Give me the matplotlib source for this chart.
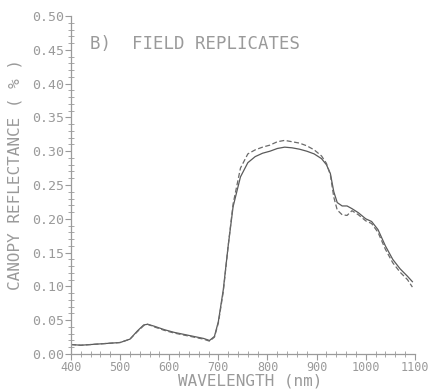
import matplotlib
matplotlib.use('Agg')
import matplotlib.pyplot as plt
from matplotlib.ticker import MultipleLocator, FormatStrFormatter

# wavelength (nm) and canopy reflectance of the two field replicates
wavelength = [400, 420, 440, 460, 480, 500, 520, 535, 548, 556, 570, 590, 610, 630, 650,
              670, 682, 692, 700, 710, 720, 730, 745, 760, 775, 790, 805, 820, 835, 850,
              865, 880, 895, 910, 920, 928, 935, 942, 952, 962, 972, 985, 1000, 1012, 1025,
              1040, 1055, 1070, 1085, 1095]
rep1 = [.014, .013, .014, .015, .016, .017, .022, .034, .043, .044, .041, .036, .032, .029, .026,
        .023, .020, .026, .048, .095, .160, .218, .262, .283, .292, .297, .300, .304, .306, .305,
        .303, .300, .296, .289, .280, .267, .240, .224, .219, .219, .215, .209, .200, .196, .184,
        .160, .140, .126, .115, .107]
rep2 = [.014, .013, .014, .015, .016, .017, .022, .033, .042, .044, .040, .035, .031, .028, .025,
        .022, .019, .025, .046, .092, .160, .222, .275, .296, .302, .306, .309, .314, .316, .314,
        .312, .308, .302, .293, .282, .265, .232, .213, .206, .205, .212, .206, .197, .193, .180,
        .155, .135, .121, .110, .099]

grey = '#9a9a9a'
plt.rcParams['font.family'] = 'DejaVu Sans Mono'

fig = plt.figure(figsize=(4.29, 3.91), dpi=100)
ax = fig.add_axes([0.1655, 0.0946, 0.8015, 0.8645])

ax.plot(wavelength, rep1, color='#5a5a5a', lw=0.9)
ax.plot(wavelength, rep2, color='#6a6a6a', lw=0.9, ls=(0, (4, 2)))

ax.set_xlim(400, 1100)
ax.set_ylim(0, 0.5)

ax.xaxis.set_major_locator(MultipleLocator(100))
ax.xaxis.set_minor_locator(MultipleLocator(20))
ax.yaxis.set_major_locator(MultipleLocator(0.05))
ax.yaxis.set_minor_locator(MultipleLocator(0.01))
ax.yaxis.set_major_formatter(FormatStrFormatter('%.2f'))

for s in ['top', 'right']:
    ax.spines[s].set_visible(False)
for s in ['left', 'bottom']:
    ax.spines[s].set_color(grey)
    ax.spines[s].set_linewidth(0.9)

ax.tick_params(which='major', direction='out', length=4, width=0.8, color=grey,
               labelcolor=grey, labelsize=8.5, pad=1)
ax.tick_params(axis='y', which='major', labelsize=9.5)
ax.tick_params(which='minor', direction='inout', length=4, width=0.6, color=grey)

ax.set_xlabel('WAVELENGTH (nm)', color=grey, fontsize=11.5)
ax.xaxis.set_label_coords(0.52, -0.058)
ax.set_ylabel('CANOPY REFLECTANCE ( % )', color=grey, fontsize=11.5)
ax.yaxis.set_label_coords(-0.14, 0.532)
ax.text(0.055, 0.917, 'B)  FIELD REPLICATES', transform=ax.transAxes, color=grey,
        fontsize=12.5, va='center', ha='left')

fig.savefig('out.png', dpi=100)
